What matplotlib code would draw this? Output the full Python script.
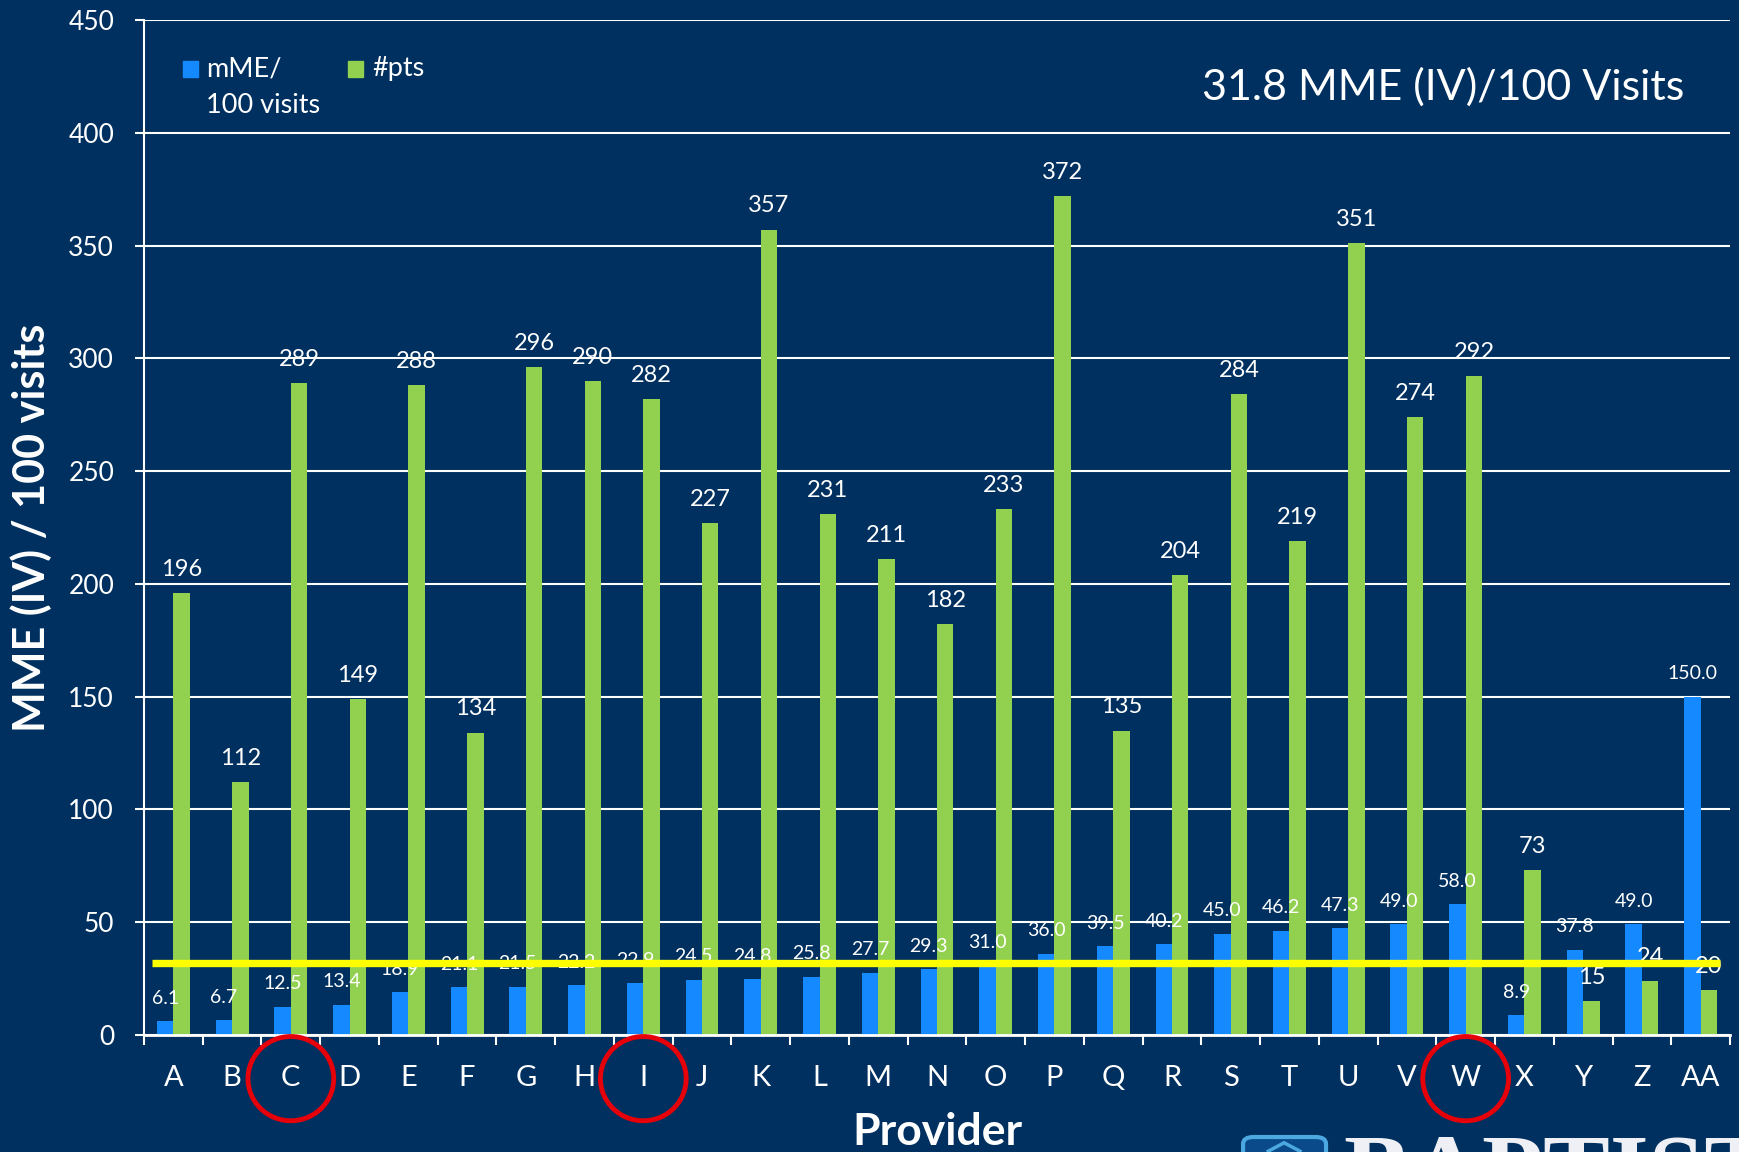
import numpy as np
import matplotlib
matplotlib.use('Agg')
import matplotlib.pyplot as plt
from matplotlib.patches import Ellipse, Rectangle, FancyBboxPatch, Polygon
from matplotlib.transforms import blended_transform_factory

# data
providers = ['A', 'B', 'C', 'D', 'E', 'F', 'G', 'H', 'I', 'J', 'K', 'L', 'M', 'N',
             'O', 'P', 'Q', 'R', 'S', 'T', 'U', 'V', 'W', 'X', 'Y', 'Z', 'AA']
mme = [6.1, 6.7, 12.5, 13.4, 18.9, 21.1, 21.5, 22.2, 22.9, 24.5, 24.8, 25.8, 27.7, 29.3,
       31.0, 36.0, 39.5, 40.2, 45.0, 46.2, 47.3, 49.0, 58.0, 8.9, 37.8, 49.0, 150.0]
pts = [196, 112, 289, 149, 288, 134, 296, 290, 282, 227, 357, 231, 211, 182,
       233, 372, 135, 204, 284, 219, 351, 274, 292, 73, 15, 24, 20]
avg_mme = 31.8
circled = ['C', 'I', 'W']

BG = '#00305F'
BLUE = '#1589FF'
GREEN = '#92D050'
YELLOW = '#FFFF00'
RED = '#E5000A'

plt.rcParams['font.family'] = ['Lato', 'DejaVu Sans']

fig = plt.figure(figsize=(17.4, 11.52), dpi=100, facecolor=BG)
ax = fig.add_axes([144 / 1740, 1 - 1035 / 1152, 1586 / 1740, 1015 / 1152])
ax.set_facecolor(BG)

x = np.arange(len(providers))
w = 0.28
ax.bar(x - w / 2, mme, w, color=BLUE, zorder=2)
ax.bar(x + w / 2, pts, w, color=GREEN, zorder=2)

# value labels (the yellow line is drawn on top of them, as in the slide)
for xi, v in zip(x, mme):
    ax.annotate(f'{v:.1f}', (xi - w / 2, v), xytext=(0, 12.5), textcoords='offset points',
                ha='center', va='baseline', color='white', fontsize=14, zorder=3)
for xi, v in zip(x, pts):
    ax.annotate(f'{v}', (xi + w / 2, v), xytext=(0, 12.5), textcoords='offset points',
                ha='center', va='baseline', color='white', fontsize=17, zorder=3)

ax.hlines(avg_mme, -0.36, len(providers) - 0.67, color=YELLOW, lw=5.3, zorder=4)

ax.set_xlim(-0.5, len(providers) - 0.5)
ax.set_ylim(0, 450)
ax.set_yticks(range(0, 451, 50))
ax.yaxis.grid(True, color='white', lw=1.5)
ax.set_axisbelow(True)
for s in ['top', 'right']:
    ax.spines[s].set_visible(False)
ax.spines['left'].set_color('white')
ax.spines['left'].set_linewidth(1.5)
ax.spines['bottom'].set_color('white')
ax.spines['bottom'].set_linewidth(2)

ax.tick_params(axis='y', colors='white', length=6.5, width=1.5, pad=15, labelsize=19)
ax.set_xticks(x)
ax.set_xticklabels(providers)
ax.tick_params(axis='x', which='major', length=0, pad=21.5, labelsize=21, labelcolor='white')
ax.set_xticks(np.arange(-0.5, len(providers)), minor=True)
ax.tick_params(axis='x', which='minor', length=7, width=1.5, color='white')

ax.set_xlabel('Provider', fontsize=32, fontweight='bold', color='white', va='center')
ax.xaxis.set_label_coords(0.5, -0.0956)
ax.set_ylabel('MME (IV) / 100 visits', fontsize=31, fontweight='bold', color='white', va='center')
ax.yaxis.set_label_coords(-0.0712, 0.5)

ax.text(0.971, 0.934, '31.8 MME (IV)/100 Visits', transform=ax.transAxes,
        ha='right', va='center', fontsize=31, color='white')

# legend, drawn by hand so the square sits on the first line
ax.add_patch(Rectangle((0.0246, 0.944), 0.0095, 0.0158, transform=ax.transAxes,
                       color=BLUE, clip_on=False))
ax.text(0.0392, 0.952, 'mME/', transform=ax.transAxes, va='center', fontsize=19.5, color='white')
ax.text(0.0392, 0.916, '100 visits', transform=ax.transAxes, va='center', fontsize=19.5, color='white')
ax.add_patch(Rectangle((0.1286, 0.944), 0.0095, 0.0158, transform=ax.transAxes,
                       color=GREEN, clip_on=False))
ax.text(0.1437, 0.952, '#pts', transform=ax.transAxes, va='center', fontsize=19.5, color='white')

# red circles around the highlighted providers
trans = blended_transform_factory(ax.transData, ax.transAxes)
for name in circled:
    i = providers.index(name)
    ax.add_patch(Ellipse((i, -0.043), 1.46, 0.083, transform=trans, fill=False,
                         ec=RED, lw=3.5, clip_on=False, zorder=5))

# cut-off logo at the bottom right
fig.patches.append(FancyBboxPatch((0.7144, -0.05), 0.0477, 0.063,
                                  boxstyle='round,pad=0,rounding_size=0.006',
                                  transform=fig.transFigure, fc='#0A4A8A', ec='#4BA8E0', lw=3))
fig.patches.append(Polygon([[0.728, 0.0], [0.738, 0.008], [0.748, 0.0]], closed=False,
                           transform=fig.transFigure, fill=False, ec='#4BA8E0', lw=2.5))
fig.text(1343 / 1740, -0.0443, 'BAPTIST', ha='left', va='baseline', fontsize=72,
         fontweight='bold', family='Liberation Serif', color='#EEF0F5')

fig.savefig('out.png', dpi=100, facecolor=BG)
